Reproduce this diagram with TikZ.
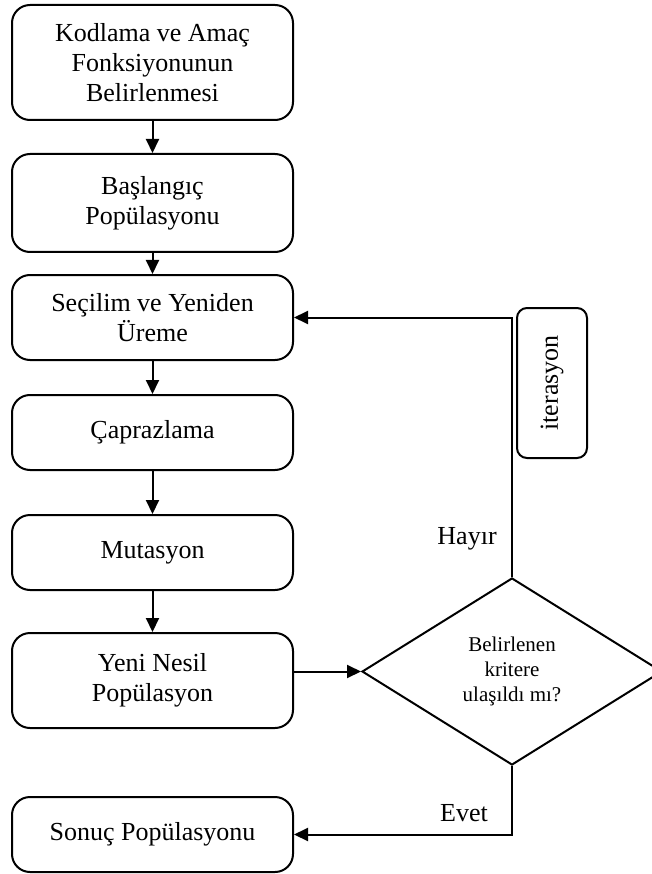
\documentclass[tikz,border=0pt]{standalone}
\usepackage{fontspec}
\setmainfont{Liberation Serif}
\usetikzlibrary{shapes.geometric,arrows.meta}
\begin{document}
\begin{tikzpicture}[x=1pt, y=-1pt, line width=2pt, >={Triangle[length=14pt,width=13pt]},
  kutu/.style={draw, rounded corners=18pt, minimum width=281pt, inner sep=0pt, align=center, font=\fontsize{26}{30}\selectfont},
  karar/.style={draw, diamond, minimum width=300pt, minimum height=187pt, inner sep=0pt, align=center, font=\fontsize{21}{25}\selectfont},
  etiket/.style={font=\fontsize{26}{30}\selectfont}]
\useasboundingbox (0,0) rectangle (651,874);

\node[kutu, minimum height=115pt] at (152.5,62.5)(kodlama) {Kodlama ve Amaç\\Fonksiyonunun\\Belirlenmesi};
\node[kutu, minimum height=98pt] at (152.5,203)(baslangic) {Başlangıç\\Popülasyonu};
\node[kutu, minimum height=85pt] at (152.5,317.5)(secilim) {Seçilim ve Yeniden\\Üreme};
\node[kutu, minimum height=75pt] at (152.5,432.5)(caprazlama) {Çaprazlama};
\node[kutu, minimum height=75pt] at (152.5,552.5)(mutasyon) {Mutasyon};
\node[kutu, minimum height=95pt] at (152.5,680.5)(yeninesil) {Yeni Nesil\\Popülasyon};
\node[kutu, minimum height=75pt] at (152.5,834.5)(sonuc) {Sonuç Popülasyonu};

\node[karar] at (512,671.5)(kriter) {Belirlenen\\kritere\\ulaşıldı mı?};
\node[kutu, rounded corners=10pt, rotate=90, minimum width=150pt, minimum height=70pt] at (552,383)(iterasyon) {iterasyon};

\draw[->] (kodlama) -- (baslangic);
\draw[->] (baslangic) -- (secilim);
\draw[->] (secilim) -- (caprazlama);
\draw[->] (caprazlama) -- (mutasyon);
\draw[->] (mutasyon) -- (yeninesil);

\draw[->] (yeninesil.east |- kriter) -- (kriter.west);
\draw[->] (kriter.north) |- (secilim.east);
\draw[->] (kriter.south) |- (sonuc.east);

\node[etiket, anchor=east] at (501,539)(hayir) {Hayır};
\node[etiket] at (464,813)(evet) {Evet};
\end{tikzpicture}
\end{document}
